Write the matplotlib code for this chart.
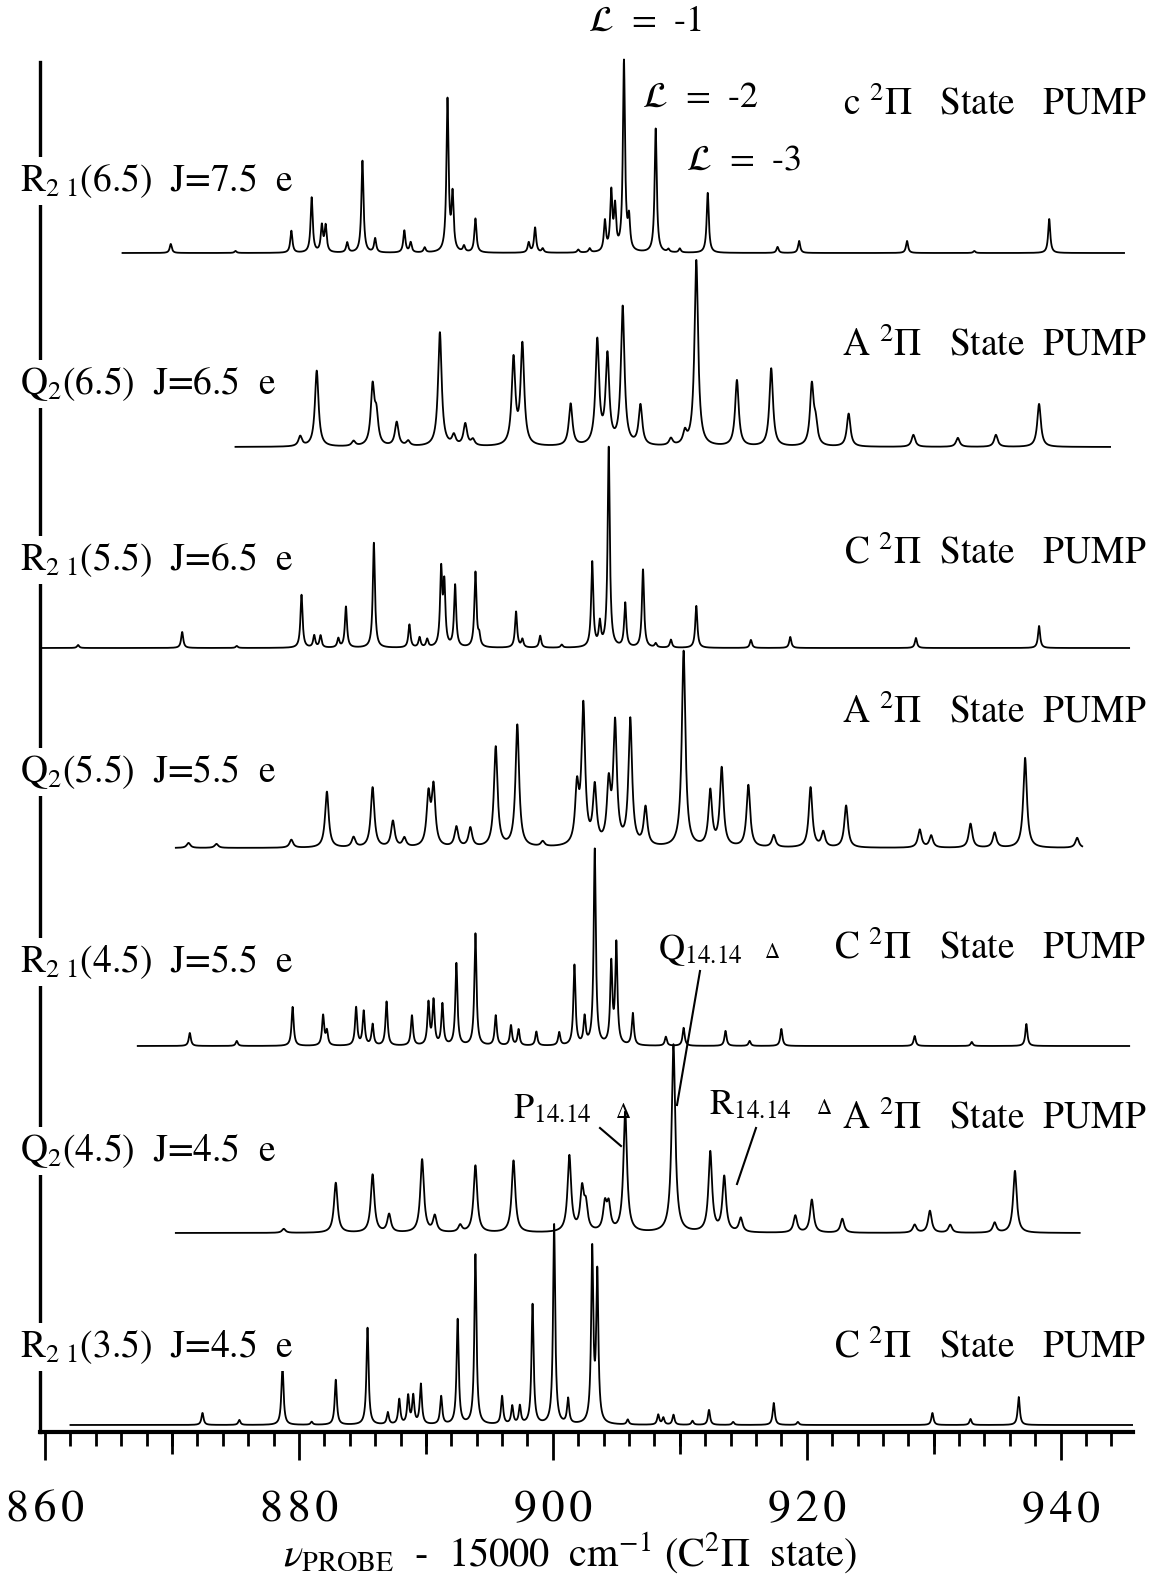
import numpy as np
import matplotlib.pyplot as plt
from matplotlib.lines import Line2D

plt.rcParams['font.family'] = ['STIXGeneral', 'DejaVu Serif']
plt.rcParams['mathtext.fontset'] = 'stix'

W, H = 1161, 1576

# ---------- data: peak positions (cm-1 - 15000) and heights (px above baseline) ----------
r65_pos = [869.9, 875.0, 879.4, 881.0, 881.8, 882.1, 883.8, 885.0, 886.0, 888.3, 888.8, 889.9,
           891.7, 892.1, 893.0, 893.9, 898.1, 898.6, 899.2, 902.0, 902.9, 904.1, 904.6, 904.9,
           905.6, 906.0, 908.1, 909.1, 910.0, 912.2, 917.7, 919.4, 927.9, 933.2, 939.1]
r65_amp = [9, 2, 22, 55, 26, 26, 10, 92, 14, 22, 10, 5,
           152, 55, 6, 34, 10, 25, 4, 3, 4, 30, 58, 42,
           190, 30, 124, 3, 4, 60, 6, 12, 12, 2, 34]

q65_pos = [880.1, 881.4, 884.3, 885.8, 886.1, 887.7, 888.6, 891.1, 892.2, 893.1, 893.7, 896.9,
           897.6, 901.4, 903.5, 904.3, 905.5, 906.9, 909.3, 910.4, 911.3, 914.5, 917.2, 920.4,
           920.7, 923.3, 928.4, 931.9, 934.9, 938.3]
q65_amp = [10, 76, 5, 58, 28, 24, 5, 114, 10, 22, 6, 86,
           100, 42, 104, 88, 138, 40, 7, 12, 186, 66, 78, 60,
           20, 33, 12, 9, 12, 43]

r55_pos = [862.6, 870.8, 875.1, 880.2, 881.2, 881.7, 883.1, 883.7, 885.9, 888.7, 889.5, 890.1,
           891.2, 891.45, 892.3, 893.9, 894.2, 897.1, 897.6, 899.0, 900.7, 903.1, 903.7, 904.4,
           905.7, 907.1, 908.1, 909.3, 911.3, 915.6, 918.7, 928.6, 938.3]
r55_amp = [3, 16, 2, 53, 12, 12, 9, 41, 105, 23, 10, 8,
           75, 60, 62, 75, 10, 36, 8, 12, 3, 85, 23, 200,
           44, 78, 4, 8, 42, 8, 11, 10, 22]

q55_pos = [871.3, 873.5, 879.4, 882.2, 884.3, 885.8, 887.4, 888.3, 890.2, 890.6, 892.4, 893.5,
           895.5, 897.2, 899.2, 901.9, 902.4, 903.3, 904.4, 904.9, 906.1, 907.3, 910.3, 912.4,
           913.3, 915.4, 917.4, 920.3, 921.3, 923.1, 928.9, 929.8, 932.9, 934.8, 937.2, 941.3]
q55_amp = [5, 4, 8, 56, 10, 60, 26, 9, 50, 58, 20, 19,
           100, 122, 5, 55, 138, 57, 58, 120, 126, 38, 196, 55,
           78, 62, 12, 60, 15, 42, 18, 12, 24, 15, 90, 10]

r45_pos = [871.4, 875.1, 879.5, 881.9, 882.2, 884.5, 885.1, 885.8, 886.9, 888.9, 890.2, 890.6,
           891.3, 892.4, 893.9, 895.5, 896.7, 897.3, 898.7, 900.5, 901.7, 902.5, 903.3, 904.6,
           905.0, 906.3, 908.9, 910.3, 913.6, 915.5, 918.0, 928.5, 933.0, 937.3]
r45_amp = [13, 5, 39, 30, 14, 38, 34, 21, 44, 30, 42, 44,
           41, 82, 112, 30, 20, 16, 14, 13, 80, 27, 196, 80,
           100, 32, 9, 18, 15, 5, 17, 10, 4, 22]

q45_pos = [878.8, 882.9, 885.8, 887.1, 889.7, 890.7, 892.7, 893.9, 896.9, 901.3, 902.3, 902.6,
           904.1, 904.4, 905.7, 909.5, 912.4, 913.5, 914.8, 919.1, 920.4, 922.8, 928.5, 929.7,
           931.3, 934.8, 936.4]
q45_amp = [4, 50, 58, 18, 73, 16, 7, 67, 72, 76, 41, 24,
           26, 25, 120, 188, 80, 55, 14, 17, 33, 14, 8, 22,
           8, 10, 62]

r35_pos = [872.4, 875.3, 878.7, 881.0, 882.9, 885.4, 887.0, 887.9, 888.6, 889.0, 889.6, 891.2,
           892.5, 893.9, 896.0, 896.8, 897.4, 898.4, 900.1, 901.2, 903.1, 903.5, 905.9, 908.3,
           908.7, 909.5, 911.0, 912.3, 914.2, 917.4, 919.3, 929.9, 932.9, 936.7]
r35_amp = [12, 5, 60, 3, 45, 97, 12, 25, 28, 28, 40, 28,
           105, 170, 28, 18, 18, 120, 200, 25, 172, 148, 5, 10,
           7, 10, 4, 15, 3, 22, 3, 12, 6, 28]

left_labels = [r'R$_{2\ 1}$(6.5)  J=7.5  e', r'Q$_2$(6.5)  J=6.5  e', r'R$_{2\ 1}$(5.5)  J=6.5  e',
               r'Q$_2$(5.5)  J=5.5  e', r'R$_{2\ 1}$(4.5)  J=5.5  e', r'Q$_2$(4.5)  J=4.5  e',
               r'R$_{2\ 1}$(3.5)  J=4.5  e']
right_labels = [r'c $^2\Pi$   State   PUMP', r'A $^2\Pi$   State  PUMP', r'C $^2\Pi$  State   PUMP',
                r'A $^2\Pi$   State  PUMP', r'C $^2\Pi$   State   PUMP', r'A $^2\Pi$   State  PUMP',
                r'C $^2\Pi$   State   PUMP']
xtick_vals = [860, 880, 900, 920, 940]

# trace layout: baseline (px above axis), x-range, line half width
traces = [
    (r65_pos, r65_amp, 1179, 866.1, 945.0, 0.10),
    (q65_pos, q65_amp, 985, 875.0, 943.9, 0.17),
    (r55_pos, r55_amp, 784, 859.6, 945.4, 0.10),
    (q55_pos, q55_amp, 584, 870.3, 941.7, 0.17),
    (r45_pos, r45_amp, 386, 867.3, 945.4, 0.10),
    (q45_pos, q45_amp, 199, 870.3, 941.5, 0.17),
    (r35_pos, r35_amp, 7, 862.0, 945.7, 0.10),
]
label_y = [181, 384, 560, 772, 962, 1151, 1347]
right_y = [104, 345, 553, 712, 948, 1118, 1347]

fig = plt.figure(figsize=(W / 100, H / 100), dpi=100)
ax = fig.add_axes([40 / W, (H - 1432) / H, (1133 - 40) / W, 1432 / H])
ax.set_xlim(859.6, 945.7)
ax.set_ylim(0, 1432)
ax.patch.set_alpha(0)

for pos, amp, base, x0, x1, w in traces:
    assert len(pos) == len(amp)
    x = np.arange(x0, x1, 0.005)
    y = np.full_like(x, float(base))
    for p, a in zip(pos, amp):
        y += a / (1 + ((x - p) / w) ** 2)
    ax.plot(x, y, color='black', lw=1.3)

for s in ['top', 'right']:
    ax.spines[s].set_visible(False)
ax.spines['bottom'].set_linewidth(3)
ax.spines['left'].set_linewidth(2.4)
ax.spines['left'].set_bounds(0, 1432 - 62)
ax.set_yticks([])

ax.set_xticks(xtick_vals)
ax.set_xticklabels(['\u200a'.join(str(v)) for v in xtick_vals])
ax.set_xticks(np.arange(860, 946, 2), minor=True)
ax.tick_params(axis='x', which='major', length=20, width=2, labelsize=33, pad=22)
ax.tick_params(axis='x', which='minor', length=10, width=2)
sec = ax.secondary_xaxis('bottom')
sec.set_xticks([870, 890, 910, 930])
sec.tick_params(length=16, width=2, labelbottom=False)
sec.spines['bottom'].set_visible(False)


def ftext(x, y, s, **kw):
    fig.text(x / W, 1 - y / H, s, va='center', **kw)


for lab, yy in zip(left_labels, label_y):
    ftext(20, yy, lab, fontsize=27, ha='left',
          bbox=dict(facecolor='white', edgecolor='none', pad=3))
for lab, yy in zip(right_labels, right_y):
    ftext(1146, yy, lab, fontsize=27, ha='right')

# Lambda-doubling labels
ftext(645, 22, r'$\mathcal{L}$  =  -1', fontsize=26, ha='center')
ftext(701, 98, r'$\mathcal{L}$  =  -2', fontsize=26, ha='center')
ftext(744, 161, r'$\mathcal{L}$  =  -3', fontsize=26, ha='center')

# line assignments
ftext(513, 1110, r'P$_{14.14}$', fontsize=26, ha='left')
ftext(623, 1113, r'$\Delta$', fontsize=15, ha='center')
ftext(658, 950, r'Q$_{14.14}$', fontsize=26, ha='left')
ftext(772, 953, r'$\Delta$', fontsize=15, ha='center')
ftext(709, 1106, r'R$_{14.14}$', fontsize=26, ha='left')
ftext(824, 1109, r'$\Delta$', fontsize=15, ha='center')
for (xa, ya), (xb, yb) in [((600, 1128), (621, 1146)), ((700, 971), (677, 1105)),
                           ((756, 1128), (737, 1184))]:
    fig.add_artist(Line2D([xa / W, xb / W], [1 - ya / H, 1 - yb / H], color='black', lw=1.5))

ftext(570, 1553, r'$\nu_{\mathrm{PROBE}}$  -  15000  cm$^{-1}$ (C$^2\Pi$  state)', fontsize=29, ha='center')

fig.savefig('out.png', dpi=100)
